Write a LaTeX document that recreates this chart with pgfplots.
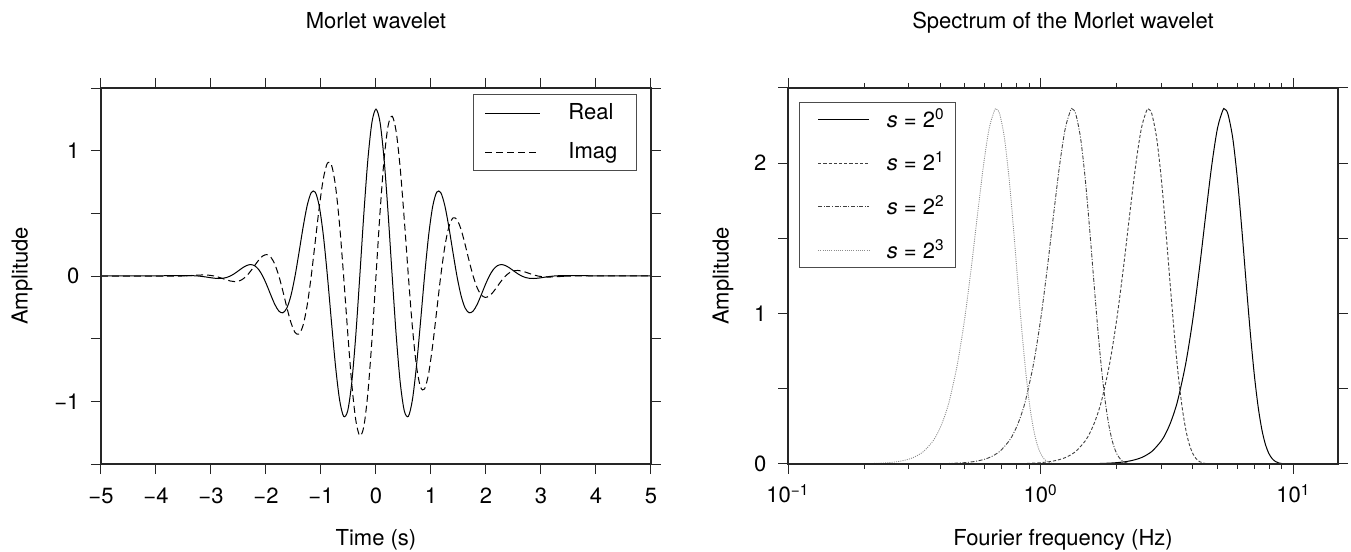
\documentclass[border=0pt]{standalone}
\usepackage{fontspec}
\setmainfont{TeX Gyre Heros}
\usepackage{pgfplots}
\usepackage{pgfplotstable}
\pgfplotsset{compat=1.18}

% Morlet wavelet in the time domain: real and imaginary parts
\pgfplotstableread{
t re im
-5.0000 0.0000 0.0000
-3.5323 0.0026 0.0000
-3.4587 0.0031 0.0013
-3.3851 0.0030 0.0030
-3.3115 0.0021 0.0051
-3.2379 0.0000 0.0070
-3.1643 -0.0034 0.0082
-3.0907 -0.0079 0.0079
-3.0171 -0.0129 0.0054
-2.9436 -0.0175 0.0000
-2.8700 -0.0200 -0.0083
-2.7964 -0.0189 -0.0189
-2.7228 -0.0125 -0.0302
-2.6492 0.0000 -0.0398
-2.5756 0.0185 -0.0446
-2.5020 0.0412 -0.0412
-2.4284 0.0645 -0.0267
-2.3548 0.0832 0.0000
-2.2813 0.0912 0.0378
-2.2077 0.0823 0.0823
-2.1341 0.0522 0.1261
-2.0605 0.0000 0.1593
-1.9869 -0.0708 0.1708
-1.9133 -0.1509 0.1509
-1.8397 -0.2264 0.0938
-1.7661 -0.2798 0.0000
-1.6925 -0.2936 -0.1216
-1.6190 -0.2538 -0.2538
-1.5454 -0.1543 -0.3726
-1.4718 0.0000 -0.4506
-1.3982 0.1916 -0.4627
-1.3246 0.3915 -0.3915
-1.2510 0.5623 -0.2329
-1.1774 0.6655 0.0000
-1.1038 0.6687 0.2770
-1.0302 0.5536 0.5536
-0.9567 0.3223 0.7782
-0.8831 0.0000 0.9012
-0.8095 -0.3671 0.8862
-0.7359 -0.7179 0.7179
-0.6623 -0.9875 0.4091
-0.5887 -1.1192 0.0000
-0.5151 -1.0769 -0.4461
-0.4415 -0.8538 -0.8538
-0.3679 -0.4760 -1.1492
-0.2944 0.0000 -1.2746
-0.2208 0.4971 -1.2001
-0.1472 0.9311 -0.9311
-0.0736 1.2264 -0.5080
0.0000 1.3310 0.0000
0.0736 1.2264 0.5080
0.1472 0.9311 0.9311
0.2208 0.4971 1.2001
0.2944 0.0000 1.2746
0.3679 -0.4760 1.1492
0.4415 -0.8538 0.8538
0.5151 -1.0769 0.4461
0.5887 -1.1192 0.0000
0.6623 -0.9875 -0.4091
0.7359 -0.7179 -0.7179
0.8095 -0.3671 -0.8862
0.8831 0.0000 -0.9012
0.9567 0.3223 -0.7782
1.0302 0.5536 -0.5536
1.1038 0.6687 -0.2770
1.1774 0.6655 0.0000
1.2510 0.5623 0.2329
1.3246 0.3915 0.3915
1.3982 0.1916 0.4627
1.4718 0.0000 0.4506
1.5454 -0.1543 0.3726
1.6190 -0.2538 0.2538
1.6925 -0.2936 0.1216
1.7661 -0.2798 0.0000
1.8397 -0.2264 -0.0938
1.9133 -0.1509 -0.1509
1.9869 -0.0708 -0.1708
2.0605 0.0000 -0.1593
2.1341 0.0522 -0.1261
2.2077 0.0823 -0.0823
2.2813 0.0912 -0.0378
2.3548 0.0832 0.0000
2.4284 0.0645 0.0267
2.5020 0.0412 0.0412
2.5756 0.0185 0.0446
2.6492 0.0000 0.0398
2.7228 -0.0125 0.0302
2.7964 -0.0189 0.0189
2.8700 -0.0200 0.0083
2.9436 -0.0175 0.0000
3.0171 -0.0129 -0.0054
3.0907 -0.0079 -0.0079
3.1643 -0.0034 -0.0082
3.2379 0.0000 -0.0070
3.3115 0.0021 -0.0051
3.3851 0.0030 -0.0030
3.4587 0.0031 -0.0013
3.5323 0.0026 0.0000
5.0000 0.0000 0.0000
}\wavelet

% Spectrum amplitude versus frequency for the scales s = 1, 2, 4, 8
\pgfplotstableread{
f1 f2 f4 f8 amp
1.0 0.5 0.25 0.125 0.0002
1.5 0.75 0.375 0.1875 0.0015
1.75 0.875 0.4375 0.21875 0.0038
2.0 1.0 0.5 0.25 0.0090
2.25 1.125 0.5625 0.28125 0.0202
2.5 1.25 0.625 0.3125 0.0423
2.75 1.375 0.6875 0.34375 0.0832
3.0 1.5 0.75 0.375 0.1540
3.125 1.5625 0.78125 0.390625 0.2047
3.25 1.625 0.8125 0.40625 0.2677
3.375 1.6875 0.84375 0.421875 0.3447
3.5 1.75 0.875 0.4375 0.4371
3.75 1.875 0.9375 0.46875 0.6706
4.0 2.0 1.0 0.5 0.9662
4.25 2.125 1.0625 0.53125 1.3081
4.5 2.25 1.125 0.5625 1.6634
4.75 2.375 1.1875 0.59375 1.9872
5.0 2.5 1.25 0.625 2.2302
5.25 2.625 1.3125 0.65625 2.3512
5.3364 2.6682 1.3341 0.66705 2.3600
5.5 2.75 1.375 0.6875 2.3286
5.75 2.875 1.4375 0.71875 2.1665
6.0 3.0 1.5 0.75 1.8936
6.25 3.125 1.5625 0.78125 1.5548
6.5 3.25 1.625 0.8125 1.1992
6.75 3.375 1.6875 0.84375 0.8689
7.0 3.5 1.75 0.875 0.5915
7.25 3.625 1.8125 0.90625 0.3782
7.5 3.75 1.875 0.9375 0.2272
7.75 3.875 1.9375 0.96875 0.1282
8.0 4.0 2.0 1.0 0.0680
8.25 4.125 2.0625 1.03125 0.0338
8.5 4.25 2.125 1.0625 0.0158
8.75 4.375 2.1875 1.09375 0.0070
9.0 4.5 2.25 1.125 0.0029
9.5 4.75 2.375 1.1875 0.0004
10.0 5.0 2.5 1.25 0.0000
}\spectrum

\newcommand{\txt}{\fontsize{11}{13}\selectfont}

\pgfplotsset{
  frame/.style={
    scale only axis, width=275pt, height=188pt,
    axis on top,
    axis line style={line width=1pt, black!85},
    tick align=outside,
    major tick length=5pt, minor tick length=2.5pt,
    tick style={black!85, line width=0.5pt},
    tick label style={font=\txt},
    label style={font=\txt},
    every axis title shift=0pt,
    title style={font=\txt, at={(axis description cs:0.5,1.1588)}, anchor=base},
    xticklabel style={anchor=base, yshift=-14.5pt},
    yticklabel style={anchor=east, xshift=-2.3pt},
    xlabel style={at={(axis description cs:0.5,-0.2168)}, anchor=base},
    legend cell align=left,
  },
}

\begin{document}
\begin{tikzpicture}
\useasboundingbox (0,0) rectangle (675.5pt,276pt);

\begin{axis}[frame,
  at={(50.5pt,44pt)}, anchor=south west,
  xmin=-5, xmax=5, ymin=-1.5, ymax=1.5,
  xtick={-5,-4,-3,-2,-1,0,1,2,3,4,5},
  xticklabels={−5,−4,−3,−2,−1,0,1,2,3,4,5},
  ytick={-1,0,1}, yticklabels={−1,0,1},
  extra y ticks={-1.5,-0.5,0.5,1.5}, extra y tick labels={},
  title={Morlet wavelet},
  xlabel={Time (s)}, ylabel={Amplitude},
  ylabel style={at={(axis description cs:-0.1436,0.5)}, anchor=center},
  legend style={at={(axis description cs:0.974,0.984)}, anchor=north east,
    draw=black!70, line width=0.5pt, fill=white, font=\txt,
    inner xsep=5.65pt, inner ysep=2.5pt, row sep=6pt, column sep=12.15pt,
    nodes={inner sep=2pt, text width=26.2pt}},
  legend image code/.code={\draw[#1] (0pt,0pt) -- (27.3pt,0pt);},
]
\addplot[black, line width=0.5pt, smooth] table[x=t, y=re]{\wavelet};
\addlegendentry{Real}
\addplot[black, line width=0.5pt, smooth, dash pattern=on 3.5pt off 2pt] table[x=t, y=im]{\wavelet};
\addlegendentry{Imag}
\end{axis}

\begin{axis}[frame,
  at={(394pt,44pt)}, anchor=south west,
  xmode=log, xmin=0.1, xmax=15, ymin=0, ymax=2.5,
  xtick={0.1,1,10},
  xticklabels={10\textsuperscript{−1},10\textsuperscript{0},10\textsuperscript{1}},
  minor xtick={0.2,0.3,0.4,0.5,0.6,0.7,0.8,0.9,2,3,4,5,6,7,8,9},
  ytick={0,1,2}, yticklabels={0,1,2},
  extra y ticks={0.5,1.5,2.5}, extra y tick labels={},
  title={Spectrum of the Morlet wavelet},
  xlabel={Fourier frequency (Hz)}, ylabel={Amplitude},
  ylabel style={at={(axis description cs:-0.1182,0.5)}, anchor=center},
  legend style={at={(axis description cs:0.0205,0.9636)}, anchor=north west,
    draw=black!70, line width=0.5pt, fill=white, font=\txt,
    inner xsep=3.5pt, inner ysep=1pt, row sep=7pt, column sep=6.5pt,
    nodes={inner sep=2pt}},
  legend image code/.code={\path (0pt,0pt); \draw[#1] (5.5pt,0pt) -- (31pt,0pt);},
]
\addplot[black, line width=0.5pt, smooth] table[x=f1, y=amp]{\spectrum};
\addlegendentry{\textit{s} = 2\textsuperscript{0}}
\addplot[black!75, line width=0.45pt, smooth, dash pattern=on 1.6pt off 1pt] table[x=f2, y=amp]{\spectrum};
\addlegendentry{\textit{s} = 2\textsuperscript{1}}
\addplot[black!75, line width=0.45pt, smooth, dash pattern=on 2pt off 0.8pt on 0.5pt off 0.8pt] table[x=f4, y=amp]{\spectrum};
\addlegendentry{\textit{s} = 2\textsuperscript{2}}
\addplot[black!45, line width=0.45pt, smooth, dash pattern=on 0.5pt off 0.6pt] table[x=f8, y=amp]{\spectrum};
\addlegendentry{\textit{s} = 2\textsuperscript{3}}
\end{axis}
\end{tikzpicture}
\end{document}
